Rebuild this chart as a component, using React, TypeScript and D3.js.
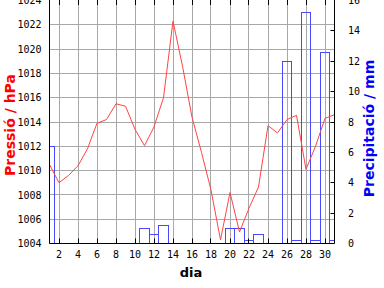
import React from "react";
import * as d3 from "d3";

const days: number[] = Array.from({ length: 31 }, (_, i) => i + 1);
const pressure: number[] = [
  1010.5, 1009.0, 1009.6, 1010.4, 1011.8, 1013.9, 1014.2, 1015.5, 1015.3, 1013.4,
  1012.05, 1013.6, 1016.0, 1022.3, 1018.6, 1014.4, 1011.5, 1008.4, 1004.3, 1008.2,
  1004.95, 1006.9, 1008.65, 1013.7, 1013.1, 1014.2, 1014.55, 1010.1, 1012.0, 1014.3,
  1014.6,
];
const precip: number[] = [
  6.4, 0, 0, 0, 0, 0, 0, 0, 0, 0,
  1.0, 0.6, 1.2, 0, 0, 0, 0, 0, 0, 1.0,
  1.0, 0.2, 0.6, 0, 0, 12.0, 0.2, 15.2, 0.2, 12.6,
  0.2,
];
const xTicks: number[] = [2, 4, 6, 8, 10, 12, 14, 16, 18, 20, 22, 24, 26, 28, 30];
const pTicks: number[] = [1004, 1006, 1008, 1010, 1012, 1014, 1016, 1018, 1020, 1022, 1024];
const rTicks: number[] = [0, 2, 4, 6, 8, 10, 12, 14, 16];

const W = 384;
const H = 288;
const L = 49.5;
const R = 334.5;
const T = 0.5;
const B = 243.5;

export default function App() {
  const x = d3.scaleLinear().domain([1, 31]).range([L, R]);
  const yP = d3.scaleLinear().domain([1004, 1024]).range([B, T]);
  const yR = d3.scaleLinear().domain([0, 16]).range([B, T]);
  const px = (v: number) => Math.floor(v) + 0.5;

  const line = d3
    .line<number>()
    .x((_, i) => x(days[i]))
    .y((d) => yP(d));

  const mono = "'DejaVu Sans Mono', monospace";
  const sans = "'DejaVu Sans', sans-serif";

  return (
    <svg
      width={W}
      height={H}
      style={{ position: "absolute", left: 0, top: 0, background: "#fff" }}
    >
      <defs>
        <clipPath id="plot">
          <rect x={L} y={T - 1} width={R - L} height={B - T + 1} />
        </clipPath>
      </defs>
      <rect x={0} y={0} width={W} height={H} fill="#fff" />
      {/* grid */}
      <g stroke="#a8a8a8" strokeWidth={1}>
        {xTicks.map((t) => (
          <line key={"gx" + t} x1={px(x(t))} x2={px(x(t))} y1={T} y2={B} />
        ))}
        {pTicks.slice(1, -1).map((t) => (
          <line key={"gy" + t} x1={L} x2={R} y1={px(yP(t))} y2={px(yP(t))} />
        ))}
      </g>
      {/* precipitation bars */}
      <g clipPath="url(#plot)" fill="none" stroke="#4848ff" strokeWidth={1}>
        {precip.map((v, i) =>
          v > 0 ? (
            <rect
              key={"b" + i}
              x={px(x(days[i] - 0.5))}
              y={px(yR(v))}
              width={px(x(days[i] + 0.5)) - px(x(days[i] - 0.5))}
              height={px(yR(0)) - px(yR(v))}
            />
          ) : null
        )}
      </g>
      {/* pressure line */}
      <path
        d={line(pressure) || ""}
        fill="none"
        stroke="#ff4444"
        strokeWidth={1}
        clipPath="url(#plot)"
      />
      {/* axes */}
      <g stroke="#000" strokeWidth={1}>
        <line x1={L} x2={L} y1={0} y2={B} />
        <line x1={R} x2={R} y1={0} y2={B} />
        <line x1={L} x2={R} y1={B} y2={B} />
        {xTicks.map((t) => (
          <g key={"tx" + t}>
            <line x1={px(x(t))} x2={px(x(t))} y1={B} y2={B - 5} />
            <line x1={px(x(t))} x2={px(x(t))} y1={0} y2={5} />
          </g>
        ))}
        {rTicks.slice(1, -1).map((t) => (
          <line key={"tr" + t} x1={R} x2={R - 4} y1={px(yR(t))} y2={px(yR(t))} />
        ))}
      </g>
      {/* tick labels */}
      <g fontFamily={mono} fontSize={10} fill="#000">
        {xTicks.map((t) => (
          <text key={"lx" + t} x={x(t)} y={258} textAnchor="middle">
            {t}
          </text>
        ))}
        {pTicks.map((t) => (
          <text key={"lp" + t} x={41.5} y={yP(t)} dy="0.36em" textAnchor="end">
            {t}
          </text>
        ))}
        {rTicks.map((t) => (
          <text key={"lr" + t} x={348} y={yR(t)} dy="0.36em" textAnchor="start">
            {t}
          </text>
        ))}
      </g>
      {/* axis titles */}
      <text
        transform="translate(15,125) rotate(-90)"
        textAnchor="middle"
        fontFamily={sans}
        fontWeight="bold"
        fontSize={14}
        fill="#ff0000"
      >
        Pressió / hPa
      </text>
      <text
        transform="translate(374,128.5) rotate(-90)"
        textAnchor="middle"
        fontFamily={sans}
        fontWeight="bold"
        fontSize={14}
        fill="#0000ff"
      >
        Precipitació / mm
      </text>
      <text
        x={191}
        y={277}
        textAnchor="middle"
        fontFamily={sans}
        fontWeight="bold"
        fontSize={13}
        fill="#000"
      >
        dia
      </text>
    </svg>
  );
}
